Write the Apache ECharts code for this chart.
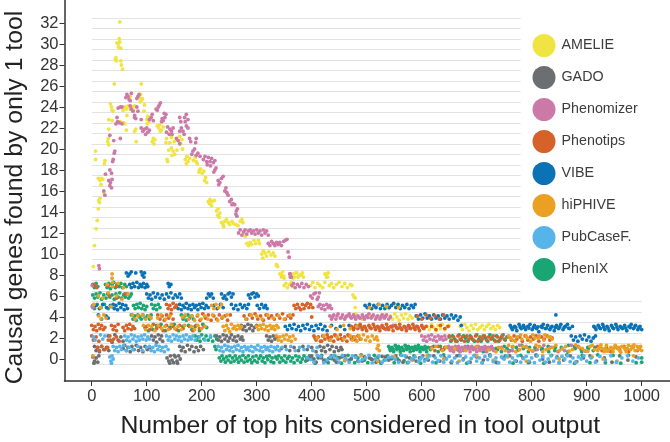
<!DOCTYPE html>
<html><head><meta charset="utf-8">
<script src="https://cdn.jsdelivr.net/npm/echarts@6/dist/echarts.min.js"></script>
<style>html,body{margin:0;padding:0;background:#fff}#c{width:670px;height:442px}</style>
</head><body><div id="c"></div>
<script>
const toolNames=['AMELIE','GADO','Phenomizer','Phenotips','VIBE','hiPHIVE','PubCaseF.','PhenIX'];
const xTicks=[0,100,200,300,400,500,600,700,800,900,1000];
const yTicks=[0,2,4,6,8,10,12,14,16,18,20,22,24,26,28,30,32];
const gridLong=[-0.5,0.5,1.5,2.5,3.5,4.5,5.5];
const gridShort=[6.5,7.5,8.5,9.5,10.5,11.5,12.5,13.5,14.5,15.5,16.5,17.5,18.5,19.5,20.5,21.5,22.5,23.5,24.5,25.5,26.5,27.5,28.5,29.5,30.5,31.5,32.5];
const amelie=[51,32.1,50,30.5,46,30.1,48,30,49,29.7,53,29.6,51,30.2,44,28.7,45,28.4,43,28.5,53,28.4,54,28,56,27.6,41,26.2,90,26.2,85,25,87,24.9,89,25.2,91,24.7,88,24.5,92,24.8,70,25,
36,24,34,24.3,37,23.7,39,23.6,57,23.7,60,24,63,23.8,66,24.1,70,23.8,73,24,76,23.7,78,24.1,96,24.2,95,23.6,64,23.2,58,22.5,31,22.8,37,22.7,60,22.4,52,22.6,
100,22.8,102,23.1,104,22.6,106,23,101,22.4,122,22,124,22.3,127,21.8,130,22.1,125,21.7,119,22.2,78,21.7,80,21.9,63,21.8,31,21.9,
30,21,29,20.7,31,20.4,81,20.7,110,20.7,112,21,115,20.9,113,20.5,136,21,135,20.6,145,21.1,142,20.6,150,20.7,158,20.8,160,21.2,162,20.5,164,20.9,
140,19.9,145,20.1,148,19.8,151,19.5,146,19.4,155,19.9,165,20,137,19,138,18.8,170,19,173,19.3,175,18.8,178,19.1,172,18.6,190,18.8,188,19.2,192,18.6,185,18.9,
7,19.8,7,19,24,18.9,23,18.6,195,17.8,198,18.1,201,17.7,196,18,204,17.9,205,17,207,17.3,209,16.8,12,17.2,15,17,18,17.2,20,17.1,17,16.6,22,15.8,15,15.3,13,15.1,
212,15,215,15.2,219,15,223,15.1,214,14.8,218,14.6,227,14.1,230,14.3,233,13.9,229,13.7,232,13.5,
236,13,239,12.8,242,13.1,245,13.3,248,13,251,12.8,240,12.6,255,13.1,258,12.9,262,12.8,266,12.7,270,13.1,273,13.3,275,13,
277,12,279,11.7,282,11,285,10.8,288,11.1,291,10.9,295,11.3,298,11,303,11.3,305,11,
309,10,312,10.3,315,10.1,318,9.8,311,9.6,322,10.2,326,9.9,330,10.1,333,9.8,
336,9,338,8.8,345,8,347,8.3,349,7.9,366,8.1,369,7.8,373,8.2,376,7.9,380,8,383,8.2,385,7.8,427,8.1,429,7.8,
336,8.9,342,8.1,345,7.8,350,7.7,363,8,366,7.7,371,8.2,375,7.8,381,8,424,8.1,427,7.8,430,8.2,
350,7,353,7.2,356,6.8,360,7.1,363,7.3,366,6.9,398,7,402,7.3,406,6.8,411,7.2,415,7,420,6.8,424,7.3,432,7,436,7.2,440,6.8,445,7.1,450,7.3,455,6.9,460,7.2,465,6.8,470,7.1,473,7,
475,6.1,477,5.9,479,5.8,479,4.9,
505,5.2,515,4.9,528,5.1,540,4.8,552,5.1,570,5,
480,4.3,492,3.8,505,4.2,518,3.9,530,4.2,543,4.1,547,3.8,551,4.3,555,4,559,3.7,563,4.2,567,3.9,571,4.3,575,3.8,579,4.1,583,3.9,
610,3.1,614,2.8,618,3.3,622,3,626,2.7,630,3.2,634,2.9,638,3.3,642,2.8,646,3.1,650,3.2,
670,3.1,674,2.8,678,3.3,682,3,686,2.7,690,3.2,694,2.9,698,3.3,702,2.8,706,3,710,3.2,714,2.8,718,3.1,722,3.3,726,2.9,730,3.1,734,2.8,738,3.2,742,3,
3,8.8,5,10.8,8,12.4,10,13.2,12,14.3,14,14.9];
const gado=[2,0.2,5,-0.2,8,0.1,11,-0.3,13,0.3,4,-0.4,137,0.1,140,-0.2,143,0.3,146,-0.1,149,-0.35,152,0.2,155,-0.2,158,0.3,161,0,142,-0.4,150,0.35,156,-0.4,
5,1.2,8,0.8,11,1.1,14,0.7,18,1.2,22,0.9,27,1.1,31,0.8,57,1,60,1.3,63,0.8,66,1.1,70,0.7,73,1.2,77,0.9,81,1.3,85,0.8,89,1.1,93,0.7,97,1.2,101,0.9,105,1.1,
160,1.2,163,0.8,166,1.1,170,0.7,174,1.3,178,0.9,182,1.2,186,0.7,190,1.1,194,0.8,198,1.2,203,0.9,
345,1,352,1.2,360,0.8,368,1.1,376,0.8,384,1.2,392,0.9,400,1.1,408,0.7,415,1.2,418,0.8,422,1.1,425,0.7,429,1.3,433,0.9,437,1.2,441,0.7,445,1.1,449,0.8,453,1.1,455,0.9,
30,2.2,34,1.8,37,1.6,42,2.3,48,1.8,53,2.1,57,1.7,109,2.2,112,1.8,115,2.1,118,1.6,121,2.3,124,1.9,127,2.2,129,1.7,
227,2.2,230,1.8,233,2.1,236,1.7,239,2.3,242,1.9,245,2.2,248,1.7,251,2,254,2.3,257,1.8,260,2.1,263,1.7,266,2.2,270,1.9,273,2.1,275,1.8,
318,2.2,321,1.8,324,2.1,327,1.7,330,2.2,333,1.9,336,2.1,
272,3.2,275,2.8,278,3.1,281,2.7,284,3.3,287,2.9,290,3.2,293,2.7,296,3,300,3.2,
392,-0.1,400,0.3,408,-0.3,418,0.1,426,-0.2,436,0.3,445,-0.3,455,0.2,468,-0.1,480,0.3,492,-0.2,505,0.1,517,-0.3,528,0.25,540,-0.1,553,0.3,566,-0.3,578,0.1,590,-0.2,602,0.3,612,-0.1,622,0.3,633,-0.2,642,0.1,654,-0.3,664,0.3,676,0,688,-0.3,700,0.2,712,-0.1,724,0.3,735,-0.3,748,0.1,760,0.3,772,-0.2,784,0.1,796,-0.3,808,0.3,820,0,832,-0.3,846,0.2,858,-0.1,870,0.3,882,-0.25,894,0.1,906,0.3,918,-0.2,932,0.1,946,-0.3,960,0.3,975,-0.1,990,0.2,
396,0.1,404,0,412,0.2,422,-0.15,431,0.05,441,-0.1,450,0.1,460,0.3,472,0.05,484,-0.2,496,0.2,510,-0.05,522,-0.2,534,0.2,546,0.05,559,-0.15,572,0.2,584,-0.05,596,0.1,606,-0.05];
const phenomizer=[66,25,64,25.2,68,24.7,62,24.9,70,24.6,72,25.3,84,25,82,24.8,86,25.2,
121,24,119,23.7,123,24.2,117,23.8,125,24.4,72,23.8,70,24.1,75,23.6,82,24,84,23.6,48,23.9,52,24,55,24,78,23.2,80,22.9,
133,23,130,22.7,135,23.3,128,22.9,127,22.6,132,23.4,108,23,105,22.8,110,23.3,112,22.7,46,23,47,22.6,44,22.4,50,22.5,55,22.4,78,23,90,22.8,
169,23,172,23.3,175,22.8,170,22.6,160,23,162,22.6,
96,21.9,90,22,93,21.7,100,22,102,21.6,105,21.8,98,21.4,142,21.9,138,22.1,145,21.7,148,22,136,21.6,141,21.4,146,21.4,163,22,166,21.7,168,21.4,172,22.2,175,22,160,21.7,
157,20.8,154,21,160,20.5,178,21,180,20.7,190,21,189,20.6,52,21,40,20.8,33,21.3,
184,19.8,187,20,182,19.5,190,19.4,193,19.6,197,19.3,42,19.8,41,19.6,39,19,38,18.8,
203,19,206,19.3,209,18.8,212,19.2,215,18.8,218,19.1,221,18.7,224,18.9,210,18.5,216,18.4,224,18,222,17.8,226,18.2,
33,18,36,17.7,25,17.6,31,17,34,16.8,37,17.1,33,16.5,36,16.3,22,16,24,15.6,
230,17,233,16.8,236,17.2,239,17.4,231,16.6,242,16,244,16.3,246,15.8,248,15.6,245,15.9,
251,15,254,15.2,257,14.8,260,14.7,255,14.7,263,14.1,265,14.3,262,13.8,264,13.6,
267,12,270,12.3,273,11.8,276,12.1,279,12.3,282,11.9,285,12.2,288,12.3,291,12,294,12.2,297,11.9,300,12.3,303,12,306,12.2,309,11.8,312,12.3,315,12,318,12.2,321,11.8,
321,11,324,10.8,327,11.2,330,11,333,10.8,336,11.1,339,10.9,342,11.1,345,10.8,349,11.2,352,11.3,355,11.4,
357,10.2,359,9.7,361,8.1,363,7.8,
13,8.9,14,8.6,360,8.1,361,7.8,
364,7,367,7.2,370,6.8,374,7.1,378,6.9,382,7.2,386,6.8,390,7.1,394,6.9,
398,6,401,5.8,404,6.2,407,6.3,410,5.7,412,5.9,414,6.3,
412,5,415,5.2,418,4.8,421,5.1,424,4.7,427,5.2,430,4.9,433,5.1,436,4.8,
433,4.1,436,3.8,440,4.2,444,3.8,448,4.3,452,3.9,456,4.2,460,3.8,464,4.1,468,4.3,472,3.9,476,4.2,480,3.8,484,4.1,488,3.9,492,4.2,496,3.8,500,4.1,504,4.3,508,3.9,512,4.2,516,3.8,520,4.1,524,3.8,528,4.2,532,3.9,536,4.2,540,3.8,543,4,
438,4,446,4.1,454,3.95,462,4,470,4.05,478,4,486,3.95,494,4,502,3.95,510,4.05,518,4,526,4,534,4.05,
525,3,535,2.8,548,3.2,560,3,575,2.9,590,3.1,
600,2.2,603,1.8,606,2.1,609,1.7,612,2.2,615,1.9,618,2.3,621,1.8,624,2.1,627,1.7,630,2.2,633,1.9,636,2.1,639,1.8,642,2.2,644,1.9,
649,1.2,652,0.8,655,1.1,658,0.7,661,1.2,664,0.9,667,1.2,670,0.7,673,1.1,676,0.8,679,1.2,682,0.9,685,1.1,688,0.7,691,1.2,694,0.9,697,1.1,700,0.7,703,1.2,706,0.8,709,1.1,712,0.9,715,1.2,718,0.7,721,1.1,724,0.9,727,1.2,731,0.8,
651,1,657,1,663,1.05,669,1,675,1,681,1.05,687,1,693,1,699,1.05,705,1,711,1.05,717,1,723,1,729,1,
745,1.1,758,0.7,765,0.8,778,1.3,790,1.2,802,0.75,810,0.9,822,1.3,835,1.1,848,0.7,860,0.8,872,1.3,885,1.2,898,0.75,
1,5,1,7,2,4.9];
const phenotips=[10,1.1,14,0.8,18,1.2,24,0.9,29,1.1,
0,2.2,3,1.8,8,2.1,13,1.7,30,1.8,33,2.2,36,1.7,40,1.9,45,2.1,50,1.7,
0,3.2,3,2.8,6,3.1,9,2.7,12,3.3,15,2.9,18,3.2,21,2.8,24,3,36,3.2,39,2.8,42,3.1,45,2.7,48,3.3,57,3,60,2.7,63,3.2,66,2.9,69,3.3,72,2.8,75,3.1,78,2.9,
100,3.1,106,2.8,112,3.3,118,2.9,124,3.1,130,2.7,136,3.2,142,2.9,148,3.1,154,2.8,160,3.2,166,2.9,178,3.1,184,2.7,190,3.2,196,2.9,204,3.1,
120,4.2,124,3.8,128,4.1,132,3.7,136,4.2,140,3.9,144,4.3,148,3.8,192,4.1,197,3.7,202,4.3,207,3.9,212,4.2,217,3.7,222,4.1,227,3.8,232,4.2,237,3.9,242,4.1,247,3.7,252,4.2,
277,4.1,282,3.8,287,4.2,292,3.9,297,4.3,302,3.8,307,4.1,312,3.7,317,4.2,322,3.9,327,4.1,332,3.8,337,4.2,342,3.9,347,4.3,352,3.8,357,4.1,362,3.9,366,4.2,400,4,
136,5.2,139,4.8,142,5.1,145,4.7,148,5.3,151,4.9,154,5.1,
368,5.1,371,4.8,374,5.2,377,4.9,380,4.7,383,5.2,386,4.8,389,5.1,392,5.3,395,4.9,398,5.2,402,4.9,
404,2.2,408,1.8,412,2.1,416,1.7,420,2.2,424,1.9,428,2.3,432,1.8,436,2.1,440,1.7,444,2.2,448,1.9,452,2.3,456,1.8,460,2.1,464,1.7,468,2.2,472,1.9,476,2.1,480,1.8,484,2.2,488,1.9,
406,2,418,1.7,430,2.05,442,2.3,454,1.95,466,2.3,
472,3.1,476,2.8,480,3.2,484,2.9,488,3.3,492,2.8,496,3.1,500,2.7,504,3.2,508,2.9,512,3.3,516,2.8,520,3.1,524,2.7,528,3.2,532,2.9,536,3.3,540,2.8,544,3.1,548,2.7,552,3.2,556,2.9,560,3.3,564,2.8,568,3.1,572,2.7,576,3.2,580,2.9,584,3.3,588,2.8,592,3.1,596,2.7,600,3.2,604,2.9,608,3.1,
474,3,482,3,490,3.05,498,2.95,506,3,514,3.05,522,2.95,530,3,538,3,546,3.05,554,3,562,2.95,570,3,578,3.05,586,3,594,2.95,602,3,
618,3.1,626,2.8,634,3.2,642,2.9,648,3.1,
592,4.1,600,3.8,608,4.2,616,3.9,624,4.1,632,3.8,640,4.2,
650,2.2,654,1.8,658,2.1,662,1.7,666,2.2,670,1.9,674,2.1,678,1.7,682,2.2,686,1.9,690,2.1,694,1.8,698,2.2,702,1.7,706,2.1,710,1.9,714,2.2,718,1.8,722,2.1,726,1.9,730,2.2,734,1.7,738,2.1,742,1.8,746,2.2,750,1.9,
758,2.1,763,1.8,768,2.2,773,1.9,778,2.1,783,1.7,788,2.2,793,1.8,798,2.1,803,1.9,808,2.2,813,1.7,818,2.1,823,1.9,828,2.2,833,1.8,837,2,
618,1.1,624,0.8,630,1.2,636,0.9,642,1.1,920,1.2,928,0.8,936,1.1,944,0.7,952,1.2,960,0.9,968,1.2,976,0.7,984,1.1,992,0.8,
32,6,45,5.8,60,6.2,6,7.1,9,6.8,30,7,45,6.9];
const vibe=[12,4.2,18,3.8,26,4.1,30,3.9,8,5.1,14,4.8,20,5.2,27,4.9,34,5.1,39,5.2,41,4.8,44,5.1,47,4.7,50,5.3,53,4.9,56,5.2,59,4.7,62,5.1,65,4.8,
154,5.1,157,4.8,160,5.2,163,4.7,166,5.1,169,4.9,172,5.3,175,4.8,178,5.1,181,4.7,184,5.2,187,4.9,190,5.1,193,4.7,196,5.2,199,4.9,202,5.3,205,4.8,208,5.1,212,4.9,
222,5.1,228,4.8,234,5.2,239,4.9,254,5.2,258,4.8,262,5.1,266,4.7,270,5.2,274,4.9,278,5.1,282,4.8,285,5.2,301,5.1,305,4.8,309,5.2,313,4.9,316,5.1,319,4.8,
100,6.2,103,5.8,106,6.1,109,5.7,112,6.3,116,5.9,120,6.2,124,5.8,128,6.1,132,5.7,136,6.2,140,5.9,144,6.3,148,5.8,152,6.1,156,5.9,160,6.2,163,5.8,
209,5.8,212,6.2,215,6,218,6.2,221,5.8,236,6.2,239,5.8,242,6,245,5.7,248,6.2,251,6.3,254,5.9,257,6.2,285,6.1,288,5.8,291,6.2,294,6.3,297,5.9,300,6.2,303,6,
69,7.1,72,6.8,75,7.2,78,6.9,82,7.3,85,6.8,88,7.1,91,6.9,94,7.2,97,6.8,100,7.1,102,6.9,139,7.2,141,6.9,144,7.1,
63,8.2,66,7.9,69,8.1,72,8.3,80,8.2,90,8.3,92,8,95,7.8,96,8.2,
352,3.1,356,2.8,360,3.2,364,2.9,368,3.3,372,2.8,376,3.1,380,2.7,384,3.2,388,2.9,392,3.3,396,2.8,400,3.1,404,2.7,408,3.2,412,2.9,416,3.3,420,2.8,424,3.1,428,2.7,436,3.2,444,2.9,452,3.1,460,2.8,468,3.2,476,2.9,484,3.1,
497,5.1,501,4.9,505,5.2,509,4.8,513,5.1,517,4.9,521,5.2,525,4.8,529,5.1,533,4.8,537,5.2,541,4.9,545,5.1,549,5.3,553,4.9,557,5.2,561,4.8,565,5.1,569,4.9,573,5.2,577,4.8,581,5.1,585,4.9,588,5.2,
590,4.1,594,3.8,598,4.2,602,3.9,606,4.3,610,3.9,614,4.1,618,3.8,622,4.2,626,3.9,630,4.1,634,3.8,638,4.2,642,3.9,646,4.1,650,3.8,654,4.2,658,3.9,662,4.1,666,3.7,670,4,844,4.2,
672,3.2,761,3.2,765,2.8,769,3.1,773,2.7,777,3.3,781,2.9,785,3.2,789,2.8,793,3.1,797,3.3,801,2.8,805,3.2,809,2.9,813,2.6,817,3.1,821,3.3,825,2.9,829,3.2,833,2.8,837,3.1,841,2.7,845,3.2,849,2.9,853,3.3,857,2.8,861,3.1,865,3.3,869,2.9,874,3.1,
763,3,771,3,779,3.05,787,3,795,2.95,803,3,811,3.05,819,3,827,2.95,835,3,843,3,851,3.05,859,3,867,2.95,
913,3.1,917,2.8,921,3.2,925,2.9,929,3.3,933,2.8,937,3.1,941,2.7,945,3.2,949,2.9,953,3.3,957,2.8,961,3.1,965,2.9,969,3.2,973,2.7,977,3.1,981,3.3,985,2.9,989,3.2,993,2.8,997,3.1,1000,2.8,
915,3,923,3,931,3.05,939,2.95,947,3,955,3.05,963,3,971,2.95,979,3,987,3.05,995,3,
872,2.2,876,1.8,880,2.1,884,1.7,888,2.2,892,1.9,896,2.3,900,1.8,904,2.1,908,1.7,912,2,916,2.2];
const hiphive=[2,0.3,37,8.1,37,7.7,38,7.3,12,6,20,5.8,30,6.3,45,6,55,5.7,66,6.2,4,5.2,16,4.9,35,5,
28,7.1,38,6.9,48,7.2,58,6.8,13,4.1,17,3.8,22,4.2,26,3.9,74,4.2,79,3.8,84,4.1,92,4.2,98,3.8,104,4.1,108,3.9,
120,3.9,126,4.2,134,3.8,142,4.1,165,4,170,4.2,176,3.8,182,4.1,187,3.7,193,4.2,199,3.8,205,4.1,211,3.8,220,4.2,229,3.7,238,4,246,4.2,
280,3.8,290,4.2,300,4.1,310,3.8,320,4.2,330,3.9,340,4.1,350,3.8,360,4.2,
94,3.2,98,2.8,103,3.2,109,3.1,115,2.7,121,3.2,127,2.9,133,3.1,139,2.8,145,3.3,151,2.9,157,3.1,163,2.8,169,3.2,
181,3.1,187,2.8,193,3.2,200,2.9,206,3.1,
239,3.1,242,2.7,245,3.2,248,2.9,251,2.6,254,3.3,257,2.9,260,3.1,263,2.8,266,3.2,269,2.9,272,3.1,
300,3.1,303,2.8,306,3.2,309,2.9,312,3.3,315,2.8,318,3.1,321,2.7,324,3.2,327,2.9,330,3.1,333,2.8,336,3.2,339,3,
434,3.1,446,2.8,458,3.2,470,2.9,482,3.1,
336,2.2,339,1.8,342,2.1,345,1.7,348,2.2,351,1.9,354,2.3,357,1.8,360,2.1,363,1.7,366,2.2,370,1.9,
410,2,422,2.2,434,1.8,446,2.1,458,1.9,470,2.2,474,1.8,478,2.1,482,1.7,486,2.2,490,1.9,494,2.3,498,1.8,502,2.1,506,1.7,510,2.2,514,1.9,518,2.1,520,1.8,
218,5.1,222,4.8,226,5.2,231,4.9,236,5.2,505,4.9,522,5.2,536,5,558,4.9,
758,2.2,766,1.8,774,2.1,782,1.9,790,2.2,798,1.7,806,2,814,2.2,822,1.8,830,2.1,837,1.9,
762,2,770,1.7,780,2.3,792,2,802,2.3,812,2,824,2.3,834,2.1,
521,1.3,523,0.8,519,1,618,1,626,1.2,638,0.8,644,1.1,
660,1,680,0.8,700,1.2,722,0.9,740,1.1,752,0.8,766,1.2,778,0.9,790,1.1,802,0.8,814,1.2,826,0.9,838,1.1,850,0.8,862,1.2,874,0.9,886,1.1,896,0.8,906,1.2,914,0.9,
735,0.7,746,1,758,1.3,771,0.7,784,1.2,796,0.9,808,1.3,820,0.7,832,1,844,1.3,856,1,868,0.75,880,1.35,892,1,902,0.75,910,1.3,
920,0.8,924,1.2,928,1,932,0.7,936,1.3,940,0.9,944,1.1,948,0.7,952,1.3,956,1,960,0.8,964,1.2,968,1.1,972,0.7,976,1.3,980,0.9,984,1.1,988,0.8,992,1.2,996,1,1000,0.8,922,1,934,1,946,1,958,1.1,970,0.9,982,1.2,994,0.9,
926,1.35,938,0.75,950,1.05,962,0.65,974,1,986,1.35,998,1.2,
460,-0.1,490,0.3,520,-0.2,550,0.2,582,-0.1,610,0.3,640,0,668,-0.2,700,0.3,730,-0.1,756,0.2,790,-0.2,820,0.3,850,0,880,-0.3,910,0.2,930,0,955,-0.2,985,0.3];
const pubcase=[33,0.2,35,-0.2,37,0.3,39,0,36,-0.4,
3,2.1,6,1.8,16,2.3,20,1.9,24,2.2,60,2.2,63,1.8,66,2.1,69,1.7,72,2.3,75,1.9,78,2.2,81,1.7,84,2.1,87,1.8,90,2.2,93,1.9,96,2.3,99,1.8,102,2.1,105,1.9,
136,2.2,139,1.8,142,2.1,145,1.7,148,2.3,151,1.9,154,2.2,157,1.8,160,2.1,163,1.7,166,2.2,169,1.9,172,2.3,175,1.8,178,2.1,181,1.9,184,2.2,188,1.8,196,2.1,206,1.8,216,2.2,
39,1.2,42,0.8,45,1.1,48,0.7,51,1.2,54,0.9,58,1.3,63,0.8,68,1.1,75,0.9,84,1.2,92,0.8,100,1.1,105,1.2,108,0.8,111,1.1,114,0.7,117,1.3,120,0.9,123,1.2,126,0.8,129,1.1,132,0.7,135,1.2,139,0.9,
230,1.2,233,0.8,236,1.1,239,0.7,242,1.3,245,0.9,248,1.2,251,0.8,254,1.1,257,0.7,260,1.2,263,0.9,266,1.3,269,0.8,272,1.1,275,0.7,278,1.2,281,0.9,284,1.1,287,0.8,290,1.2,293,0.7,296,1.1,299,0.9,302,1.3,305,0.8,308,1.1,311,0.7,314,1.2,317,0.9,320,1.1,323,0.8,326,1.2,329,0.7,332,1.1,335,0.9,338,1.2,341,0.8,346,1.1,354,0.9,362,1.2,370,0.8,378,1.1,386,0.9,394,1.2,402,0.8,410,1.1,
392,0.1,404,-0.3,416,0.25,428,-0.1,440,0.3,450,-0.3,462,0.05,474,0.3,486,-0.25,498,0.1,510,-0.35,522,0.3,534,-0.1,546,0.2,558,-0.3,570,0.3,582,0,594,-0.25,
398,-0.05,410,0.35,422,-0.35,434,0.2,446,0,456,0.35,468,-0.3,480,0.15,492,-0.05,504,0.35,516,0,528,-0.3,540,0.15,552,-0.05,564,0.35,576,-0.3,588,0.2,598,0,
600,0.2,605,-0.2,610,0.05,615,0.3,620,-0.3,625,0.1,630,-0.15,635,0.3,640,-0.3,645,0,650,0.25,655,-0.2,660,0.1,665,-0.35,670,0.3,675,-0.1,680,0.2,685,-0.3,690,0.05,695,0.3,700,-0.2,705,0.1,710,-0.35,715,0.25,720,-0.05,725,0.3,730,-0.25,735,0.1,740,-0.35,745,0.2,750,0,755,0.3,760,-0.3,765,0.1,770,-0.15,775,0.3,780,-0.3,785,0.05,790,0.25,795,-0.2,800,0.1,805,-0.35,810,0.3,815,-0.1,820,0.2,825,-0.3,830,0,835,0.3,840,-0.2,845,0.1,850,-0.35,855,0.25,860,0,865,0.3,870,-0.25,875,0.1,880,-0.3,885,0.2,890,0,895,0.3,900,-0.2,908,0.1,916,-0.3,924,0.25,934,-0.1,944,0.3,954,-0.3,964,0.1,974,0.3,984,-0.2,994,0.1];
const phenix=[224,1.2,226,0.9,232,0.1,235,-0.2,237,0.3,240,0,243,-0.3,245,0.2,248,-0.1,251,0.3,253,-0.3,256,0.1,259,-0.2,261,0.3,264,0,267,-0.3,269,0.2,272,-0.1,275,0.35,277,-0.3,280,0.1,283,-0.2,285,0.3,288,-0.05,291,-0.35,293,0.2,296,-0.15,299,0.3,301,-0.3,304,0.05,307,0.3,310,-0.2,312,0.1,315,-0.35,318,0.25,320,-0.05,323,0.3,326,-0.25,328,0.1,331,-0.35,334,0.2,337,0,340,0.3,342,-0.3,345,0.1,348,-0.15,351,0.3,353,-0.3,356,0.05,359,0.25,362,-0.2,365,0.1,368,-0.35,371,0.3,374,-0.1,377,0.2,380,-0.3,383,0,386,0.3,389,-0.2,391,0.1,
396,0.3,406,-0.4,418,0.35,430,-0.35,442,0.3,454,-0.4,466,0.35,478,-0.35,490,0.4,502,-0.35,514,0.35,526,-0.4,538,0.3,550,-0.35,562,0.4,574,-0.35,586,0.3,598,-0.4,612,0.35,626,-0.35,640,0.4,654,-0.35,668,0.35,682,-0.4,696,0.35,710,-0.35,724,0.4,738,-0.35,752,0.3,766,-0.4,780,0.35,794,-0.35,808,0.4,822,-0.4,836,0.35,850,-0.35,864,0.4,878,-0.4,892,0.35,906,-0.35,920,0.4,934,-0.35,948,0.35,962,-0.4,976,0.35,990,-0.35,1000,0.1,1000,-0.3,
400,0,412,0.1,424,-0.1,436,0.05,448,0.15,460,-0.15,472,0,484,0.1,496,-0.1,508,0,520,0.15,532,-0.1,544,0.05,556,0,568,-0.15,
540,1.2,543,0.8,546,1.1,549,0.7,552,1.3,555,0.9,558,1.2,561,0.7,564,1.1,567,0.8,570,1.3,573,0.9,576,1.2,579,0.7,582,1.1,585,0.8,588,1.2,591,0.9,594,1.3,597,0.7,600,1.1,603,0.9,606,1.2,609,0.7,612,1.1,616,0.9,622,1.2,630,0.7,634,1.2,640,0.9,646,1.1,
542,1,548,0.95,554,1.05,560,1,566,0.95,572,1.05,578,1,584,1,590,1.05,596,1,602,0.95,608,1,
655,1,668,0.8,684,1.2,698,1,712,0.7,726,1.1,738,0.9,750,1.2,760,0.8,772,1.1,782,1.3,794,0.7,806,1.1,818,0.9,830,1.2,842,0.8,854,1.1,866,0.7,878,1.2,890,0.9,902,1.1,912,0.8,
735,1,745,0.7,755,1,765,1.15,775,0.85,785,1,796,1.1,807,0.9,819,1,831,0.7,843,1.1,855,1,867,1.3,879,1,891,0.7,903,1,915,1.1,
188,2.2,191,1.8,194,2.1,197,1.7,200,2.3,204,1.9,208,2.2,212,1.8,216,2.1,220,1.7,224,2.2,227,1.9,
650,2.1,653,1.7,656,2.2,660,1.9,664,1.7,668,2.3,672,1.8,676,2.2,680,2,684,1.7,688,2.2,692,1.9,696,1.7,700,2.3,704,1.9,708,1.7,712,2.2,716,2,720,1.7,724,2.3,728,2,732,1.8,736,2.2,740,1.7,744,2,748,2.3,752,1.8,755,2.1,
97,3,103,2.7,111,2.8,118,3.2,126,3.3,134,2.7,142,3,150,3.3,158,2.7,166,3.1,176,3.2,182,2.8,188,3.1,196,2.7,202,3.3,209,3,
72,4.2,75,3.8,78,4.1,81,3.7,84,4.2,87,4,90,3.8,93,4.2,97,3.9,101,4.1,105,3.8,108,4.2,163,4.2,166,3.8,169,4.1,172,3.7,175,4.2,178,3.9,182,4.1,185,3.8,
2,5.1,5,4.8,10,5.2,17,4.9,23,5.2,30,4.8,36,5,76,5.1,79,4.8,82,5.2,85,4.9,88,5.3,91,4.8,94,5.1,97,4.7,100,5,109,5.2,112,4.8,115,5.1,118,4.7,121,5.2,124,4.9,
2,6.1,5,5.8,8,6.2,11,5.9,15,6.3,18,5.7,22,6.1,26,5.8,29,6.2,33,5.9,37,6.1,41,5.7,44,6.2,48,5.9,51,6.3,54,5.8,58,6.1,61,5.9,64,6.2,67,5.8,70,6,72,6.2,
2,7.1,5,6.8,8,7.2,11,6.9,25,7.1,28,6.8,31,7.2,34,6.7,37,7.1,40,7.3,43,6.8,46,7.1,50,6.9,53,7.2,56,6.8,60,7.1,63,6.9];
const seriesData=[['PhenIX',phenix,'#1aa574'],['AMELIE',amelie,'#f0e442'],['Phenomizer',phenomizer,'#cc79a7'],['VIBE',vibe,'#0a72b5'],['GADO',gado,'#6d6e71'],['Phenotips',phenotips,'#d5622a'],['hiPHIVE',hiphive,'#e9a023'],['PubCaseF.',pubcase,'#56b4e9']];
const pairs=a=>{const r=[];for(let i=0;i<a.length;i+=2)r.push([a[i],a[i+1]]);return r;};
const gridSeg=(v,end)=>[{coord:[0,v]},{coord:[end,v]}];
const series=seriesData.map(([n,a,c])=>({name:n,type:'scatter',data:pairs(a),symbolSize:3.8,itemStyle:{color:c,opacity:1},silent:true,animation:false,z:3}));
series.push({type:'scatter',data:[],silent:true,animation:false,markLine:{silent:true,animation:false,symbol:'none',z:1,label:{show:false},lineStyle:{color:'#e2e2e2',width:1,type:'solid'},
 data:gridLong.map(v=>gridSeg(v,1000)).concat(gridShort.map(v=>gridSeg(v,780)))}});
const chart=echarts.init(document.getElementById('c'),null,{renderer:'canvas'});
const plain=v=>String(v);
chart.setOption({animation:false,backgroundColor:'#fff',
 grid:{left:64.5,right:0,top:0,bottom:61,containLabel:false,outerBoundsMode:'none'},
 legend:{data:toolNames,orient:'vertical',left:532.5,top:34,padding:0,itemWidth:23,itemHeight:23,itemGap:9,icon:'circle',selectedMode:false,textStyle:{color:'#3c3c3c',fontFamily:'Liberation Sans',fontSize:14.3,padding:[0,0,0,1]}},
 xAxis:{type:'value',min:-49.5,max:1051.5,name:'Number of top hits considered in tool output',nameLocation:'middle',nameGap:33,nameTextStyle:{fontFamily:'Liberation Sans',fontSize:24.8,color:'#222',padding:[0,14,0,0]},
  splitLine:{show:false},axisLine:{onZero:false,lineStyle:{color:'#333',width:1.5}},axisTick:{length:5,lineStyle:{color:'#333',width:1},customValues:xTicks},axisLabel:{customValues:xTicks,formatter:plain,fontFamily:'Liberation Sans',fontSize:16.5,color:'#333',margin:7}},
 yAxis:{type:'value',min:-2.095,max:34.191,name:'Causal genes found by only 1 tool',nameLocation:'middle',nameGap:37,nameTextStyle:{fontFamily:'Liberation Sans',fontSize:24.8,color:'#222',padding:[0,14,0,0]},
  splitLine:{show:false},axisLine:{onZero:false,lineStyle:{color:'#333',width:1.5}},axisTick:{length:5,lineStyle:{color:'#333',width:1},customValues:yTicks},axisLabel:{customValues:yTicks,formatter:plain,fontFamily:'Liberation Sans',fontSize:16.5,color:'#333',margin:6}},
 series});
</script></body></html>
